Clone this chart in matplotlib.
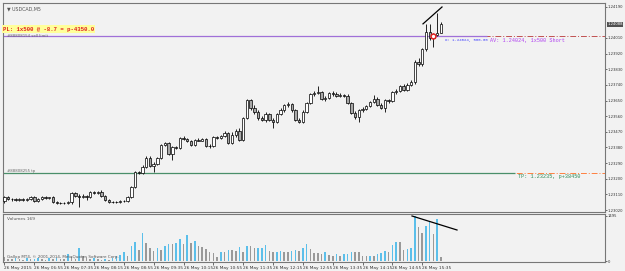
import matplotlib.pyplot as plt
from matplotlib.patches import Rectangle
import numpy as np

# USDCAD M5, 26 May 2015, bars from 06:15
opens = [1.23072, 1.23095, 1.23084, 1.23084, 1.23078, 1.23084, 1.23078, 1.23084, 1.23095, 1.23072,
         1.23084, 1.23095, 1.23089, 1.23095, 1.23066, 1.23061, 1.23063, 1.23060, 1.23064, 1.23118,
         1.23101, 1.23095, 1.23101, 1.23095, 1.23124, 1.23118, 1.23124, 1.23101, 1.23078, 1.23066,
         1.23068, 1.23065, 1.23072, 1.23070, 1.23095, 1.23153, 1.23239, 1.23233, 1.23268, 1.23320,
         1.23273, 1.23285, 1.23320, 1.23394, 1.23406, 1.23342, 1.23383, 1.23377, 1.23434, 1.23429,
         1.23417, 1.23394, 1.23423, 1.23420, 1.23429, 1.23388, 1.23386, 1.23440, 1.23434, 1.23446,
         1.23463, 1.23406, 1.23452, 1.23475, 1.23423, 1.23550, 1.23653, 1.23607, 1.23584, 1.23550,
         1.23538, 1.23573, 1.23538, 1.23527, 1.23573, 1.23596, 1.23624, 1.23630, 1.23596, 1.23538,
         1.23527, 1.23584, 1.23636, 1.23688, 1.23694, 1.23699, 1.23659, 1.23665, 1.23694, 1.23688,
         1.23676, 1.23682, 1.23676, 1.23636, 1.23578, 1.23555, 1.23596, 1.23601, 1.23619, 1.23642,
         1.23659, 1.23624, 1.23607, 1.23653, 1.23647, 1.23699, 1.23705, 1.23734, 1.23711, 1.23740,
         1.23757, 1.23872, 1.23860, 1.23947, 1.24045, 1.24010, 1.24027, 1.24039]
closes = [1.23095, 1.23084, 1.23086, 1.23078, 1.23084, 1.23078, 1.23084, 1.23095, 1.23072, 1.23084,
          1.23095, 1.23089, 1.23095, 1.23066, 1.23061, 1.23063, 1.23060, 1.23064, 1.23118, 1.23101,
          1.23095, 1.23101, 1.23095, 1.23124, 1.23118, 1.23124, 1.23101, 1.23078, 1.23066, 1.23068,
          1.23065, 1.23072, 1.23070, 1.23095, 1.23153, 1.23239, 1.23233, 1.23268, 1.23320, 1.23273,
          1.23285, 1.23320, 1.23394, 1.23406, 1.23342, 1.23383, 1.23377, 1.23434, 1.23429, 1.23417,
          1.23394, 1.23423, 1.23420, 1.23429, 1.23388, 1.23386, 1.23440, 1.23434, 1.23446, 1.23463,
          1.23406, 1.23452, 1.23475, 1.23423, 1.23550, 1.23653, 1.23607, 1.23584, 1.23550, 1.23538,
          1.23573, 1.23538, 1.23527, 1.23573, 1.23596, 1.23624, 1.23630, 1.23596, 1.23538, 1.23527,
          1.23584, 1.23636, 1.23688, 1.23694, 1.23699, 1.23659, 1.23665, 1.23694, 1.23688, 1.23676,
          1.23682, 1.23676, 1.23636, 1.23578, 1.23555, 1.23596, 1.23601, 1.23619, 1.23642, 1.23659,
          1.23624, 1.23607, 1.23653, 1.23647, 1.23699, 1.23705, 1.23734, 1.23711, 1.23740, 1.23757,
          1.23872, 1.23860, 1.23947, 1.24045, 1.24010, 1.24027, 1.24039, 1.24088]
highs = [1.23101, 1.23101, 1.23089, 1.23089, 1.23089, 1.23089, 1.23089, 1.23101, 1.23101, 1.23089,
         1.23101, 1.23101, 1.23095, 1.23101, 1.23072, 1.23066, 1.23066, 1.23072, 1.23124, 1.23124,
         1.23112, 1.23112, 1.23107, 1.23130, 1.23130, 1.23130, 1.23135, 1.23107, 1.23084, 1.23072,
         1.23072, 1.23078, 1.23078, 1.23101, 1.23158, 1.23245, 1.23245, 1.23279, 1.23331, 1.23331,
         1.23296, 1.23325, 1.23400, 1.23411, 1.23411, 1.23388, 1.23388, 1.23440, 1.23446, 1.23434,
         1.23423, 1.23429, 1.23434, 1.23434, 1.23434, 1.23400, 1.23446, 1.23446, 1.23452, 1.23475,
         1.23469, 1.23469, 1.23486, 1.23492, 1.23555, 1.23659, 1.23659, 1.23624, 1.23596, 1.23561,
         1.23584, 1.23578, 1.23550, 1.23578, 1.23607, 1.23630, 1.23642, 1.23636, 1.23601, 1.23550,
         1.23596, 1.23642, 1.23694, 1.23705, 1.23734, 1.23705, 1.23676, 1.23699, 1.23705, 1.23699,
         1.23694, 1.23688, 1.23688, 1.23642, 1.23590, 1.23601, 1.23613, 1.23624, 1.23647, 1.23682,
         1.23671, 1.23636, 1.23659, 1.23659, 1.23705, 1.23717, 1.23740, 1.23745, 1.23751, 1.23768,
         1.23883, 1.23895, 1.23952, 1.24091, 1.24091, 1.24039, 1.24154, 1.24102]
lows = [1.23061, 1.23078, 1.23072, 1.23072, 1.23072, 1.23072, 1.23072, 1.23078, 1.23066, 1.23066,
        1.23078, 1.23084, 1.23084, 1.23061, 1.23055, 1.23055, 1.23055, 1.23055, 1.23055, 1.23095,
        1.23038, 1.23089, 1.23078, 1.23089, 1.23112, 1.23112, 1.23095, 1.23072, 1.23061, 1.23061,
        1.23061, 1.23063, 1.23066, 1.23066, 1.23089, 1.23147, 1.23227, 1.23227, 1.23262, 1.23268,
        1.23239, 1.23279, 1.23314, 1.23388, 1.23337, 1.23308, 1.23371, 1.23371, 1.23423, 1.23411,
        1.23388, 1.23388, 1.23417, 1.23417, 1.23383, 1.23377, 1.23383, 1.23429, 1.23429, 1.23440,
        1.23400, 1.23400, 1.23440, 1.23417, 1.23417, 1.23544, 1.23596, 1.23573, 1.23538, 1.23532,
        1.23527, 1.23532, 1.23492, 1.23521, 1.23567, 1.23584, 1.23613, 1.23584, 1.23532, 1.23521,
        1.23521, 1.23578, 1.23630, 1.23676, 1.23688, 1.23653, 1.23647, 1.23659, 1.23676, 1.23671,
        1.23671, 1.23671, 1.23630, 1.23573, 1.23544, 1.23527, 1.23584, 1.23596, 1.23613, 1.23636,
        1.23619, 1.23601, 1.23584, 1.23636, 1.23642, 1.23688, 1.23699, 1.23705, 1.23705, 1.23734,
        1.23745, 1.23849, 1.23849, 1.23935, 1.23998, 1.23958, 1.24022, 1.24039]
volumes = [120, 80, 60, 90, 70, 50, 100, 60, 80, 110, 70, 50, 90, 60, 100, 80, 70, 230, 120, 80,
           420, 150, 100, 70, 90, 60, 50, 80, 50, 90, 160, 210, 290, 180, 500, 640, 380, 930, 590, 420,
           330, 420, 360, 495, 560, 550, 605, 715, 550, 860, 605, 670, 500, 476, 398, 310, 277, 122, 299, 288,
           365, 355, 332, 454, 310, 498, 487, 420, 430, 440, 542, 343, 288, 295, 343, 310, 288, 332, 365, 332,
           420, 553, 387, 255, 250, 245, 288, 199, 177, 232, 177, 232, 240, 310, 305, 300, 177, 170, 180, 175,
           232, 255, 343, 310, 531, 620, 615, 365, 398, 420, 1495, 1118, 919, 1163, 1340, 897, 1384, 144]

time_labels = ['26 May 2015', '26 May 06:55', '26 May 07:35', '26 May 08:15', '26 May 08:55',
               '26 May 09:35', '26 May 10:15', '26 May 10:55', '26 May 11:35', '26 May 12:15',
               '26 May 12:55', '26 May 13:35', '26 May 14:15', '26 May 14:55', '26 May 15:35']
price_ticks = [1.24190, 1.24010, 1.23920, 1.23830, 1.23740, 1.23650, 1.23560, 1.23470,
               1.23380, 1.23290, 1.23200, 1.23110, 1.23020]
entry_price = 1.24024
tp_price = 1.23235
entry_bar = 115

BG = '#f2f2f2'
W, H = 625, 271
RIGHT = 605
fig = plt.figure(figsize=(W / 100, H / 100), dpi=100)
fig.patch.set_facecolor(BG)

def px_to_idx(px):
    return (px - 3) / 3.73 - 0.4

# --- price panel ---
ax = fig.add_axes([3 / W, 59 / H, (RIGHT - 3) / W, 209 / H])
ax.set_facecolor(BG)
n = len(opens)
x = np.arange(n)
for i in x:
    o, c, h, l = opens[i], closes[i], highs[i], lows[i]
    ax.vlines(i, l, h, color='black', lw=0.6, zorder=3)
    lo, hi = min(o, c), max(o, c)
    fc = 'white' if c >= o else '#a8a8a8'
    ax.add_patch(Rectangle((i - 0.32, lo), 0.64, max(hi - lo, 0.000015),
                           facecolor=fc, edgecolor='black', lw=0.5, zorder=4))

ax.set_xlim(-0.4, px_to_idx(RIGHT))
ax.set_ylim(1.23009, 1.24211)

# order levels
ax.axhline(entry_price, color='#c05050', lw=0.7, ls=(0, (6, 2, 1, 2)), zorder=1)
ax.hlines(entry_price, -0.4, px_to_idx(487), color='#a070d8', lw=0.9, zorder=2)
ax.axhline(tp_price, color='#ff8040', lw=0.7, ls=(0, (6, 2, 1, 2)), zorder=1)
ax.hlines(tp_price, -0.4, px_to_idx(515), color='#4a8f6a', lw=0.9, zorder=2)
ax.plot(entry_bar, entry_price, 'o', ms=3.5, mfc='white', mec='#e02020', mew=1.1, zorder=6)

# trend line on highs
ax.plot([px_to_idx(423), px_to_idx(442)], [1.24091, 1.24188], color='black', lw=0.9, zorder=5)

ax.yaxis.tick_right()
ax.set_yticks(price_ticks)
ax.set_yticklabels([f'{p:.5f}' for p in price_ticks])
ax.tick_params(axis='y', labelsize=2.7, colors='#333333', length=1.5, width=0.5, pad=0.5)
ax.set_xticks([])
for s in ax.spines.values():
    s.set_color('#777777')
    s.set_linewidth(0.8)

ax.text(1.0035, closes[-1], f'{closes[-1]:.5f}', transform=ax.get_yaxis_transform(),
        fontsize=2.7, color='white', va='center', ha='left',
        bbox=dict(boxstyle='square,pad=0.15', facecolor='#505050', edgecolor='none'))

ax.text(0.006, 0.985, '\u25bc USDCAD,M5', transform=ax.transAxes, fontsize=3.4,
        color='#555555', va='top', ha='left')
ax.text(0.0, 0.875, 'PL: 1x500 @ -8.7 = p-4350.0', transform=ax.transAxes,
        fontsize=4.1, color='#e02020', fontweight='bold', family='Liberation Mono',
        va='center', ha='left',
        bbox=dict(boxstyle='square,pad=0.2', facecolor='#ffff99', edgecolor='none'))
ax.text(0.006, 0.842, '#88808154 sell limit', transform=ax.transAxes, fontsize=2.8,
        color='#666666', va='center', ha='left')
ax.text(0.006, 0.198, '#88808255 tp', transform=ax.transAxes, fontsize=2.8,
        color='#666666', va='center', ha='left')
ax.text(px_to_idx(445), 1.23996, 'O: 1.24024, 500.00', fontsize=2.9, color='#4040ff',
        family='Liberation Mono', va='center', ha='left')
ax.text(px_to_idx(490), 1.23996, 'AV: 1.24024, 1x500 Short', fontsize=3.7, color='#b040f0',
        family='Liberation Mono', va='center', ha='left')
ax.text(px_to_idx(518), 1.23212, 'TP: 1.23235, p+38450', fontsize=3.7, color='#2e8b57',
        family='Liberation Mono', va='center', ha='left')

# --- volume panel ---
axv = fig.add_axes([3 / W, 9 / H, (RIGHT - 3) / W, 48 / H])
axv.set_facecolor(BG)
vcol = ['#5bbfea' if i > 0 and volumes[i] > volumes[i - 1] else '#999999' for i in range(n)]
axv.bar(x, volumes, width=0.42, color=vcol, zorder=3)
axv.plot([px_to_idx(412), px_to_idx(457)], [1495, 1030], color='black', lw=0.9, zorder=5)
axv.set_xlim(-0.4, px_to_idx(RIGHT))
axv.set_ylim(-33, 1561)
axv.yaxis.tick_right()
axv.set_yticks([0, 1495])
axv.set_yticklabels(['0', '1495'])
axv.tick_params(axis='y', labelsize=2.7, colors='#333333', length=1.5, width=0.5, pad=0.5)
axv.set_xticks(np.arange(0, 8 * len(time_labels), 8))
axv.set_xticklabels(time_labels, ha='left')
axv.tick_params(axis='x', labelsize=3.1, colors='#333333', length=2, width=0.5, pad=1)
for s in axv.spines.values():
    s.set_color('#777777')
    s.set_linewidth(0.8)
axv.text(0.006, 0.93, 'Volumes 169', transform=axv.transAxes, fontsize=3.2,
         color='#555555', va='top', ha='left')
axv.text(0.006, 0.1, 'Gallop MT4, \u00a9 2001-2014, MetaQuotes Software Corp.',
         transform=axv.transAxes, fontsize=3.0, color='#555555', va='center', ha='left')

fig.savefig('out.png', dpi=100, facecolor=BG)
